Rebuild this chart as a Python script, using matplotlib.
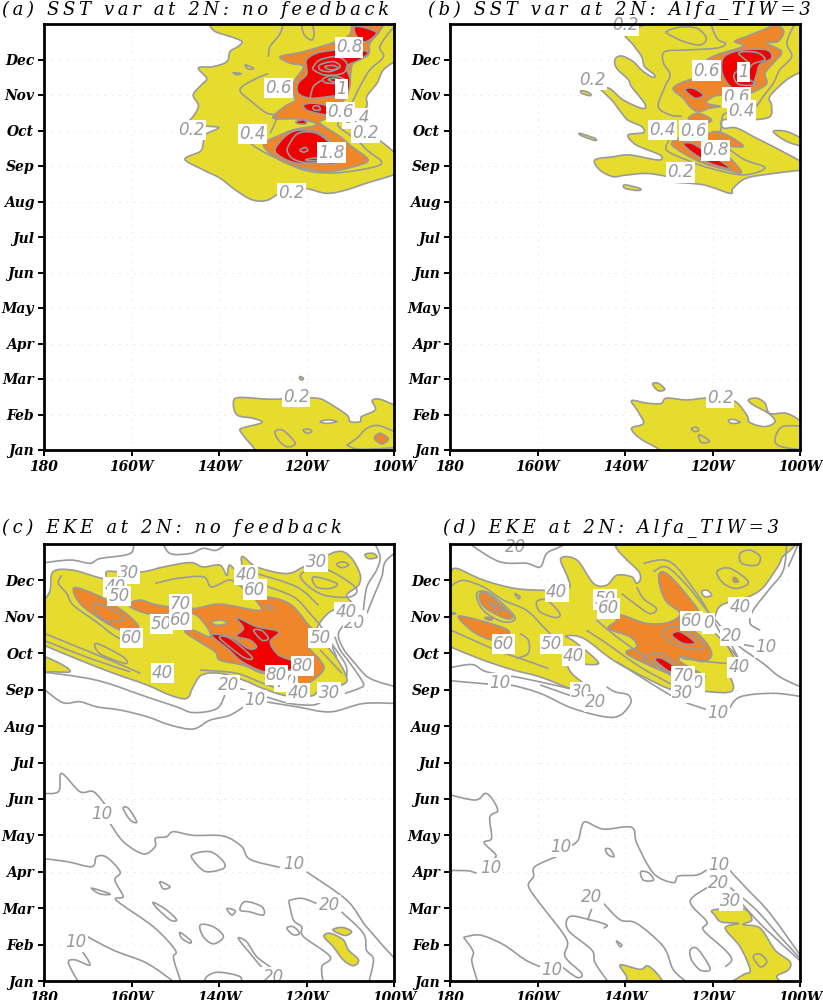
import matplotlib
matplotlib.use("Agg")
import matplotlib.pyplot as plt
from matplotlib.path import Path
from matplotlib.patches import PathPatch

months = ["Jan", "Feb", "Mar", "Apr", "May", "Jun", "Jul", "Aug", "Sep", "Oct", "Nov", "Dec"]
lon_ticks = [180, 160, 140, 120, 100]
lon_labels = ["180", "160W", "140W", "120W", "100W"]

# contours as (degrees west, months since Jan)

# panel a: SST var, no feedback
a_yellow = [
    [(142.2, 12.3), (142.2, 12), (140.9, 11.79), (137.5, 11.65), (134.8, 11.51), (135.6, 11.37), (137.5, 11.22),
     (138.2, 10.94), (141.3, 10.8), (144.7, 10.76), (142.8, 10.47), (144, 10.29), (145.9, 10), (144.7, 9.68),
     (146.6, 9.3), (148.9, 9.16), (141.3, 9.11), (140.2, 9.06), (143.2, 8.88), (143.6, 8.64), (144.3, 8.41),
     (147.8, 8.19), (143.6, 7.89), (139.8, 7.66), (136.3, 7.33), (132.5, 7.05), (129.1, 7.03), (126, 7.23),
     (120.7, 7.37), (115.4, 7.23), (110.8, 7.33), (106.2, 7.52), (99, 7.8), (98, 8.0), (99, 8.27), (102.4, 8.64),
     (105.5, 8.88), (107.8, 9.11), (108.5, 9.39), (106.2, 9.68), (106.2, 9.96), (103.9, 10.33), (102.4, 10.71),
     (99, 11.05), (98, 11.5), (98, 12.4), (100, 12.4)],
    [(136.7, 1.36), (135.2, 1.48), (128.3, 1.43), (122, 1.46), (117.6, 1.46), (115.4, 1.36), (110.8, 0.99), (110, 0.8),
     (107.7, 0.8), (107.4, 0.94), (104.3, 1.13), (105, 1.39), (103.2, 1.43), (100, 1.27), (98, 1.2), (98, -0.2),
     (131, -0.2), (131.7, 0), (134.8, 0.47), (134.8, 0.61), (130.2, 0.77), (132.1, 0.89), (135.9, 0.99)],
    [(121.4, 2.07), (120.7, 2.02), (121.1, 1.97), (121.6, 2.02)],
]
a_orange = [
    [(108.9, 12.3), (102.4, 12.3), (102.4, 12), (103.6, 11.74), (105.5, 11.46), (105.9, 11.13), (109.3, 10.9), (110, 10.52),
     (110.8, 9.96), (113.1, 9.68), (113.5, 9.44), (116.9, 9.25), (115.4, 9.07), (112.3, 8.83), (109.7, 8.55),
     (105.9, 8.17), (109.3, 7.98), (115.4, 7.84), (122.2, 7.98), (126.8, 8.22), (129.9, 8.6), (126.8, 8.83),
     (123, 9.02), (117.7, 9.16), (121.5, 9.32), (127.6, 9.35), (124.9, 9.68), (122.6, 9.86), (123.4, 10.15),
     (122.6, 10.43), (120.7, 10.8), (123.8, 10.9), (126, 11.08), (120.7, 11.22), (113.1, 11.51), (110, 11.74)],
    [(104.5, 0.33), (103.2, 0.47), (101.3, 0.31), (102.8, 0.17)],
]
a_red = [
    [(108.9, 11.93), (106.2, 11.88), (104, 11.74), (106.2, 11.51), (107.8, 11.55), (108.9, 11.74)],
    [(120, 10.99), (117.7, 11.18), (113.1, 11.27), (107.8, 11.27), (105.9, 11.18), (107.8, 10.99), (110.8, 10.8),
     (110, 10.43), (110.8, 10.05), (114.6, 9.96), (119.2, 9.91), (121.9, 10.05), (121.9, 10.33), (120, 10.57), (120, 10.8)],
    [(120.7, 9.72), (118.4, 9.77), (115, 9.68), (114.6, 9.44), (117.7, 9.49), (120, 9.58)],
    [(122.4, 9.25), (120.7, 9.3), (120, 9.19), (121.9, 9.19)],
    [(127.2, 8.45), (124.9, 8.83), (122.2, 9), (117.7, 8.97), (114.6, 8.69), (113.1, 8.45), (113.1, 8.08),
     (117.7, 8.08), (122.2, 8.08), (125.3, 8.22)],
]
a_white = [[(116.9, 0.8), (115, 0.85), (113.1, 0.8), (115.4, 0.75)]]
a_loops = [
    [(121.1, 12.2), (120.7, 11.74), (118.8, 11.55), (118.3, 11.79), (119.4, 12.2)],
    [(136.7, 10.63), (135, 10.6), (136, 10.57)],
    [(134, 10.85), (132.1, 10.75), (133.3, 10.73)],
    [(118.4, 10.8), (116.9, 10.99), (113.1, 11.08), (110.8, 10.9), (111.2, 10.66), (113.1, 10.57), (116.1, 10.57), (118.4, 10.71)],
    [(116.9, 10.85), (113.9, 10.94), (112.3, 10.8), (114.6, 10.66), (116.9, 10.71)],
    [(115.8, 10.8), (113.9, 10.83), (112.7, 10.75), (114.6, 10.71)],
    [(116.1, 10.47), (113.9, 10.54), (111.2, 10.43), (113.1, 10.33), (115.8, 10.35)],
    [(115, 10.44), (113.5, 10.47), (112.3, 10.4), (113.9, 10.37)],
    [(118.4, 9.68), (117.3, 9.69), (116.9, 9.58), (118.3, 9.58)],
    [(124.2, 8.55), (121.9, 8.92), (117.7, 8.92), (113.9, 8.55), (113.9, 8.27), (118.4, 8.08), (122.6, 8.17), (124.2, 8.36)],
    [(121.5, 8.45), (120.3, 8.52), (119.7, 8.44), (120.7, 8.39)],
    [(119.9, 8.19), (117.7, 8.22), (117.7, 8.15), (119.9, 8.15)],
    [(127.2, 0.52), (125.3, 0.55), (122.6, 0.19), (124.5, 0.09), (126.4, 0.28)],
    [(120.8, 0.56), (119.5, 0.59), (118.8, 0.52), (119.9, 0.47)],
]
a_lines = [
    [(98, 12.1), (100.3, 11.88), (103.2, 11.37), (102.4, 11.08), (105.5, 10.71), (107.4, 10.33), (109.3, 9.86), (110.8, 9.49),
     (112.7, 9.25), (112.3, 9.07), (108.5, 8.74), (106.2, 8.45), (102.8, 8.08), (107.8, 7.89), (114.6, 7.8),
     (120.7, 7.89), (126, 8.17), (130.6, 8.45), (133.3, 8.69)],
    [(128.3, 8.92), (126.8, 9.39), (129.1, 9.49), (132.1, 9.77), (135.2, 10.15), (131.4, 10.47), (128.7, 10.6)],
    [(128.7, 11.08), (128.3, 11.37), (126, 11.74), (124.9, 12.2)],
    [(119.2, 9.91), (118.4, 10.24), (116.5, 10.42)],
    [(110.8, 0.14), (108.5, 0.33), (106.2, 0.61), (103.2, 0.68), (98, 0.4)],
    [(110.8, 0.14), (107.7, 0.02), (98, 0.08)],
]
a_labels = [("0.8", 110.3, 11.34), ("0.6", 126.4, 10.19), ("1", 112, 10.17), ("0.4", 108.6, 9.34), ("0.6", 112.3, 9.52),
            ("0.2", 146.2, 9.02), ("0.4", 132.3, 8.9), ("0.2", 106.5, 8.94), ("1.8", 114.2, 8.38), ("0.2", 123.4, 7.23),
            ("0.2", 122.4, 1.5)]

# panel b: SST var, Alfa_TIW=3
b_yellow = [
    [(135, 12.3), (135, 12.02), (140, 11.75), (138.1, 11.41), (136.2, 11.08), (135.5, 10.8), (133.2, 10.56), (133.9, 10.51),
     (136.2, 10.7), (138.1, 10.94), (140.8, 11.1), (142.3, 11), (141.9, 10.75), (139.3, 10.44), (138.5, 10.23), (135.5, 9.76),
     (136, 9.62), (140.4, 9.86), (143.5, 10.18), (146.1, 10.23), (145, 10.09), (142.7, 9.81), (141.2, 9.56), (139.3, 9.29),
     (136.2, 9.11), (135.8, 8.94), (139.3, 8.87), (137.4, 8.59), (132, 8.31), (132.4, 8.17), (138.9, 8.31), (142.7, 8.26),
     (146.9, 8.17), (145.7, 7.88), (142.7, 7.7), (140, 7.74), (135.1, 7.79), (130.5, 7.7),
     (129.7, 7.56), (122.1, 7.47), (116, 7.23), (115.3, 7.37), (112.2, 7.66), (105.4, 7.8), (99, 7.9), (98, 8.0), (99, 8.08),
     (105.4, 8.5), (109.9, 8.78), (114.5, 9.07), (117.5, 9.07), (117.5, 9.3), (111, 9.3), (106.9, 9.39), (106.5, 9.72),
     (106.9, 9.96), (103, 10.43), (99, 10.72), (98, 11), (98, 12.4), (100, 12.4)],
    [(149.9, 10.13), (148, 10.05), (148, 9.98), (149.9, 10.05)],
    [(150.3, 8.92), (146.9, 8.78), (146.9, 8.72), (149.9, 8.85)],
    [(140, 7.47), (136.6, 7.37), (137, 7.31), (140, 7.37)],
    [(106.1, 8.97), (103, 8.97), (99, 8.74), (98, 8.65), (99, 8.55), (103, 8.69)],
    [(138.5, 1.39), (135, 1.32), (131.8, 1.31), (130.5, 1.46), (125.9, 1.41), (121.3, 1.46), (115.2, 1.39), (112.2, 0.99),
     (111.4, 0.77), (108, 0.66), (105.7, 0.8), (107.2, 1.03), (110.7, 1.27), (111.8, 1.41), (109.9, 1.46), (108, 1.32),
     (106.9, 1.03), (103, 1.03), (99, 0.75), (98, 0.6), (98, -0.2), (131, -0.2), (132, 0), (136.6, 0.33), (138.5, 0.61),
     (135.8, 0.75), (137, 1.08)],
    [(133.7, 1.86), (132.4, 1.88), (130.9, 1.71), (132.4, 1.67)],
]
b_orange = [
    [(107.6, 11.88), (105.4, 11.98), (103.7, 11.79), (105, 11.51), (107.6, 11.46), (104.2, 11.22), (106.1, 10.9), (108, 10.61),
     (107.6, 10.33), (109.9, 10.13), (113, 10), (117.2, 10), (119.8, 9.96), (121.4, 9.77), (118.3, 9.68), (120.6, 9.63),
     (123.3, 9.53), (125.2, 9.68), (126.7, 9.91), (129, 10.19), (125.2, 10.43), (120.6, 10.47), (118.3, 10.61), (121.7, 10.9),
     (119.1, 11.13), (113, 11.37), (114.9, 11.51), (112.2, 11.65)],
    [(125.5, 9.35), (123.3, 9.49), (120.2, 9.3), (122.1, 9.19), (124, 9.25)],
    [(129.4, 8.64), (126.3, 8.83), (122.1, 8.88), (119.1, 8.97), (116, 8.83), (113, 8.55), (117.5, 8.5), (113.4, 7.84),
     (116.7, 7.89), (122.1, 8.08), (126.7, 8.36)],
]
b_red = [
    [(117.9, 10.9), (116.8, 11.13), (113, 11.27), (107.6, 11.27), (106.5, 11.04), (109.2, 10.85), (110, 10.55), (111.4, 10.19),
     (115.3, 10.19), (117.5, 10.52)],
    [(126.3, 10.15), (124.4, 10.19), (122.1, 10), (124, 9.91)],
    [(126.7, 8.62), (124.8, 8.64), (122.1, 8.45), (116, 7.94), (120.6, 8.08), (124.4, 8.36)],
]
b_white = [[(116.4, 0.83), (115.2, 0.86), (113.7, 0.78), (115.6, 0.75)]]
b_loops = [
    [(130.5, 11.79), (127.5, 11.91), (123.6, 11.88), (121.4, 11.6), (122.9, 11.41), (126.7, 11.51), (129.7, 11.69)],
    [(114, 11.18), (110, 11.2), (108, 11.0), (111, 10.85), (112, 10.5), (110, 10.3), (114, 10.3), (115, 10.6), (111.6, 10.85)],
    [(104.9, 0.56), (103, 0.68), (98, 0.6), (98, 0.05), (103.8, 0.08), (105.7, 0.24)],
    [(124.8, 0.61), (123.6, 0.64), (123.2, 0.55), (124.2, 0.52)],
    [(123.2, 0.42), (122.1, 0.38), (120.7, 0.24), (122.5, 0.21)],
]
b_lines = [
    [(121, 12.2), (119, 11.6), (117, 11.45), (119, 11.32), (125.5, 11.27), (130.9, 11.22), (131.2, 10.9), (129.7, 10.57), (131, 10.2),
     (132.4, 9.67), (129.7, 9.44), (127, 9.4)],
    [(129.7, 8.78), (130.5, 8.45), (125.9, 8.17), (120.6, 7.94), (113, 7.75), (108, 7.95), (113, 8.2), (118, 8.7), (118, 9.1), (117.5, 9.45), (115, 9.5)],
    [(100, 12.1), (101.5, 11.93), (103, 11.46), (101.9, 11.08), (104.6, 10.71), (106.1, 10.33), (108.4, 9.96), (109.9, 9.68)],
]
b_labels = [("0.2", 140, 11.96), ("0.2", 147.5, 10.43), ("0.6", 121.4, 10.69), ("1", 113, 10.64), ("0.6", 114.5, 9.93),
            ("0.4", 113.3, 9.56), ("0.4", 131.4, 9.02), ("0.6", 124.4, 9), ("0.8", 119.3, 8.44), ("0.2", 127.4, 7.82),
            ("0.2", 118.3, 1.46)]

# panel c: EKE, no feedback
c_yellow = [
    [(182, 9.35), (180, 9.22), (171.8, 8.81), (164.1, 8.45), (156.5, 8.13), (151.2, 7.85), (147.4, 7.76), (145.9, 8.08), (144, 8.4),
     (139.8, 8.45), (134.4, 8.26), (129.9, 8.03), (124.5, 7.83), (118.8, 7.83), (116.9, 7.99), (111.2, 8.17), (111.2, 8.45),
     (113.1, 8.86), (115.4, 9.22), (117.7, 9.63), (114.6, 10.14), (109.7, 10.32), (110.8, 10.6), (108.1, 10.87), (107.8, 11.19),
     (110, 11.65), (113.1, 11.79), (119.9, 11.42), (124.5, 11.19), (131.4, 11.37), (134.8, 11.65), (134.4, 11.05), (137.5, 11.42),
     (138.2, 11.14), (139.8, 11.42), (143.6, 11.37), (146.6, 11.49), (152.7, 11.37), (157.3, 11.24), (163, 11.24), (165.7, 11.24),
     (166.4, 11.05), (173.3, 11.28), (177.9, 11.24), (178.6, 10.73), (180, 10.46), (182, 10.3)],
    [(182, 9.0), (180, 8.92), (175.6, 8.67), (174.1, 8.49), (178.6, 8.49), (180, 8.45), (182, 8.4)],
    [(106.6, 11.72), (104.7, 11.74), (103.9, 11.63), (105.9, 11.6)],
    [(116, 1.22), (114.6, 1.31), (111.6, 1.13), (110.4, 0.85), (108.1, 0.58), (109.3, 0.42), (111.6, 0.58), (113.9, 0.94)],
    [(114, 1.4), (111.8, 1.47), (109.7, 1.36), (111.2, 1.25)],
]
c_orange = [
    [(173.3, 10.78), (170.6, 10.73), (165.7, 10.46), (160.3, 10), (158.4, 9.68), (162.2, 9.63), (166.8, 9.91), (171.8, 10.37)],
    [(160.7, 10.32), (158, 10.46), (153.9, 10.32), (145.9, 10.23), (139.8, 10.35), (130.6, 10.18), (131.8, 10.55), (126.8, 10.5),
     (123, 10.28), (119.2, 9.73), (117.7, 9.62), (119.6, 9.22), (116.9, 8.81), (116.1, 8.54), (119.6, 8.17), (122.2, 8.13),
     (124.1, 8.49), (129.9, 8.45), (134.4, 8.67), (139.8, 8.81), (140.9, 9.04), (145.1, 9.36), (147.8, 9.59), (145.9, 9.63),
     (142.1, 9.45), (142.8, 9.73), (145.9, 10.09), (151.2, 10.09), (156.5, 10.09)],
]
c_red = [
    [(136, 9.98), (131.4, 9.73), (126.4, 9.59), (128.3, 9.31), (126.4, 8.95), (123, 8.77), (123.8, 8.54), (129.5, 8.49),
     (134.7, 8.77), (137.7, 9.09), (141.7, 9.5), (137.5, 9.45), (133.3, 9.13), (131.4, 9.17), (132.9, 9.36), (136, 9.47), (134.4, 9.68)],
]
c_hole = [[(141.7, 9.86), (139.4, 9.91), (138.2, 9.82), (140.5, 9.77)]]
c_loops = [
    [(168, 9.27), (161.9, 8.9), (161.5, 8.72), (167.2, 8.99)],
    [(111.6, 11.51), (110.4, 11.42), (112, 11.35), (113.1, 11.45)],
    [(118.4, 11.1), (113.1, 10.92), (114.6, 10.78), (117.7, 10.82)],
    [(121.1, 11.19), (116.1, 11.33), (108.9, 10.82), (110, 10.55), (116.1, 10.6), (120.3, 10.92)],
    [(168.7, 10.32), (166.4, 10.32), (161.5, 9.95), (166.4, 9.91)],
    [(132.1, 9.63), (130.2, 9.62), (128.7, 9.41), (130.2, 9.36)],
    [(139.8, 9.41), (137.5, 9.41), (132.5, 8.9), (134.4, 8.89)],
    [(129.1, 10.32), (127.6, 10.27), (128.6, 10.2)],
    [(161.9, 4.74), (160.7, 4.74), (158.8, 4.37), (160.3, 4.42)],
    [(146.2, 3.46), (142, 3.55), (139, 3.28), (139, 3.09), (142.8, 3), (145, 3.19)],
    [(153.5, 2.73), (151.2, 2.59), (152.7, 2.53)],
    [(169.1, 2.55), (164.9, 2.39), (167.2, 2.39)],
    [(155, 2.16), (152, 1.95), (149.7, 1.68), (151.2, 1.68), (154.2, 2)],
    [(138.2, 1.99), (136.3, 1.93), (137.1, 1.81)],
    [(135.2, 1.95), (134, 2.18), (130.2, 2.04), (129.9, 1.81), (133, 1.9)],
    [(148.9, 1.33), (146.6, 1.13), (146.6, 1.04), (148.5, 1.17)],
    [(144.3, 1.54), (141.3, 1.49), (139, 1.22), (141.3, 1.02), (143.6, 1.22)],
    [(135.6, 1.17), (133.7, 1.08), (131.4, 0.67), (128, 0.35), (129.9, 0.35), (132.9, 0.76)],
    [(124.5, 1.45), (123, 1.49), (121.6, 1.31), (123, 1.27)],
]
c_lines = [
    [(181, 8.1), (179.8, 7.99), (175.6, 7.64), (171.8, 7.67), (168, 7.53), (162.6, 7.44), (156.5, 7.26), (151.2, 7.03), (145.9, 6.92),
     (142.1, 7.16), (137.5, 7.3), (133.5, 7.6)],
    [(129.5, 7.67), (122.2, 7.53), (114.6, 7.39), (107, 7.62), (99, 7.62)],
    [(181, 8.5), (168, 8.26), (156.5, 7.8), (149.7, 7.53), (145.9, 7.37), (140.5, 7.48), (138.5, 7.9)],
    [(135.2, 8.03), (129.1, 7.8), (123.8, 7.62), (118.4, 7.58), (116.1, 7.71)],
    [(111.2, 7.9), (108.1, 8.03), (107, 8.17), (110, 8.72), (112.3, 9.09), (113.5, 9.45)],
    [(99, 8.06), (105.5, 8.31), (108.9, 8.72), (111.6, 9.13), (112.7, 9.54), (110.5, 9.9)],
    [(107, 10.18), (106.2, 10.82), (104, 11.28), (103.2, 11.65), (104.7, 12.1)],
    [(153.1, 12.1), (151.2, 11.74), (146.6, 11.74), (143.6, 11.88), (140.5, 11.83), (137.5, 12.1)],
    [(181, 11.47), (174, 11.56), (169.5, 11.47), (167.2, 11.6), (160.3, 11.74), (159.6, 12.1)],
    [(99, 11.83), (102, 11.51), (102.8, 11.1), (104.7, 10.55), (106.2, 10.09)],
    [(176, 11.14), (176.7, 10.92), (174.8, 10.64), (173.3, 10.32), (168, 9.86), (163.4, 9.45), (158, 9.2)],
    [(181, 9.6), (173.3, 9.22), (164.1, 8.77), (158, 8.45)],
    [(181, 9.4), (169.5, 8.86), (160.3, 8.49)],
    [(154.6, 10.92), (149.7, 11.05), (143.6, 11.1), (141.7, 10.82), (137.5, 11.01), (134.4, 10.78)],
    [(129.9, 10.87), (123, 10.55), (119.2, 10.09), (116.1, 9.63), (113.1, 8.9)],
    [(131.4, 11.19), (122.2, 10.82), (117.3, 10.32)],
    [(115.4, 9.45), (111.2, 8.72), (110.8, 8.35)],
    [(116.9, 9.09), (111.9, 8.45)],
    [(144.3, 8.54), (136, 8.45), (129.9, 8.17), (124.5, 7.97), (120, 7.99)],
    [(181, 5.15), (176.7, 5.2), (176, 5.7), (171.8, 5.2), (168.7, 5.2), (165.8, 4.81)],
    [(164.9, 4.33), (161.9, 3.83), (157.3, 3.49), (154.6, 3.69), (154.5, 3.92), (152, 3.96), (150.4, 4.1), (145.9, 4), (139, 3.98),
     (134.8, 3.69), (132.9, 3.34), (126.1, 3.12)],
    [(120, 3), (110.8, 2.22), (106.3, 1.49), (99, 0.5)],
    [(181, 3.37), (174.8, 3.28), (169.1, 3.14), (168, 3.41), (165.7, 3.4), (162.6, 3), (163.8, 2.77), (161.9, 2.32), (163.4, 2.21),
     (155, 1.49), (150, 0.85), (150.4, 0.62), (148.5, -0.1)],
    [(171.8, 1.33), (164.2, 0.85), (156.5, 0.49), (150, -0.05)],
    [(171.8, -0.1), (174.4, 0.49), (172.9, 0.58), (169.5, 0.44), (171.4, 0.85)],
    [(143.4, -0.1), (142.8, 0.12), (140.1, 0.24), (135.2, 0.12), (135.2, -0.1)],
    [(124.1, 2.21), (121.1, 2.27), (117.7, 2.13)],
    [(112, 1.9), (107, 1.31), (106.3, 0.85), (104.7, 0.58), (105.9, -0.1)],
    [(124.1, 2.21), (123, 1.68), (121.1, 1.49), (120.7, 1.22), (114.6, 0.67), (116.5, 0.39), (116.1, -0.1)],
]
c_labels = [("30", 160.7, 11.19), ("40", 163.8, 10.82), ("50", 162.8, 10.57), ("70", 148.8, 10.35), ("50", 153.1, 9.8),
            ("60", 148.8, 9.91), ("60", 160, 9.42), ("40", 152.9, 8.45), ("40", 133.8, 11.14), ("60", 131.8, 10.75),
            ("30", 117.8, 11.51), ("20", 108.9, 9.84), ("40", 111, 10.14), ("50", 116.9, 9.41), ("70", 124.7, 8.22),
            ("80", 126.9, 8.4), ("80", 120.9, 8.65), ("40", 121.9, 7.91), ("30", 114.8, 7.92), ("20", 137.9, 8.13),
            ("10", 131.8, 7.71), ("10", 166.8, 4.59), ("10", 172.7, 1.08), ("10", 122.8, 3.2), ("20", 114.8, 2.09),
            ("20", 127.6, 0.1)]

# panel d: EKE, Alfa_TIW=3
d_yellow = [
    [(182, 9.3), (180, 9.18), (172.4, 8.81), (165.5, 8.54), (159.4, 8.35), (151.8, 8.01), (148.8, 8.08), (152.2, 8.45), (152.6, 8.7),
     (146.9, 8.69), (146.5, 8.81), (151.4, 9.31), (153.5, 9.47), (149.5, 9.41), (142.7, 8.81), (135, 8.31), (129, 7.99),
     (123.6, 7.97), (116.8, 7.92), (115.2, 8.08), (116.4, 8.58), (114.1, 8.83), (119, 9.5), (120.2, 9.59), (118.7, 10.23),
     (116, 10.41), (113.7, 10.46), (109.1, 10.73), (106.1, 11.19), (104.2, 11.6), (103.4, 12.2), (140.5, 12.2), (136.6, 11.19),
     (137.3, 10.92), (138.5, 11.1), (141.9, 11.14), (144.2, 10.87), (147.2, 10.92), (151, 11.56), (154.7, 11.6), (153, 11.05),
     (153, 10.78), (157.9, 10.73), (165.1, 10.78), (172.4, 11.01), (178.5, 11.33), (180, 11.19), (182, 11)],
    [(119.8, 1.95), (113, 1.99), (111, 1.68), (113, 1.55), (109.1, 1.45), (105.7, 0.85), (102.3, 0.53), (102.7, 0.3), (105.3, 0.12),
     (104.2, -0.2), (116.8, -0.2), (113, 0.17), (111.4, 0.3), (113.7, 0.94), (117.1, 1.45), (114.1, 1.58), (118, 1.62), (119.4, 1.8)],
    [(141.1, 0.44), (136.6, 0.32), (134.7, 0.41), (132, 0.1), (131.5, -0.2), (140, -0.2), (139.6, 0.1)],
]
d_orange = [
    [(132.2, 11.19), (130.5, 11.19), (127.4, 10.82), (122.9, 10.09), (126.3, 10.05), (127.4, 9.77), (124.4, 9.63), (121.3, 9.27),
     (120.2, 8.95), (122.1, 8.77), (126.7, 8.9), (127.4, 8.77), (121.7, 8.35), (127.4, 8.35), (132, 8.54), (139.6, 8.99),
     (137.3, 9.18), (138.8, 9.45), (143.8, 9.68), (141.9, 9.91), (144.2, 10.09), (140.8, 10.05), (135, 9.82), (130, 9.85),
     (127.4, 10.09), (130.5, 10.41), (132, 10.82)],
    [(181, 10.14), (178.6, 10.09), (181, 10.05)],
    [(178.1, 10), (174.7, 9.95), (167.4, 9.68), (166.7, 9.5), (170.1, 9.36), (174.7, 9.59)],
    [(173.3, 10.6), (171.6, 10.64), (165.9, 10.05), (167.1, 9.95), (171.2, 10.18), (172.8, 10.37)],
    [(172, 9.98), (170.5, 9.98), (170.5, 9.91), (171.6, 9.93)],
    [(115.2, 11.08), (114.5, 11.05), (114.1, 10.96), (115.1, 10.96)],
]
d_red = [
    [(129.3, 9.5), (127.4, 9.59), (124, 9.29), (126.7, 9.27)],
    [(133.1, 8.81), (131.6, 8.86), (128.2, 8.58), (129.7, 8.49)],
]
d_white = [[(122.5, 10.69), (121.3, 10.73), (120.2, 10.6), (121.7, 10.55)]]
d_loops = [
    [(160.2, 10.41), (157.9, 10.46), (154.9, 10.09), (156, 9.98), (159.4, 10.14)],
    [(165.2, 10.64), (164, 10.55), (164.4, 10.5)],
    [(173.9, 10.64), (170.9, 10.64), (165.2, 10), (167.8, 9.86), (172.4, 10.18)],
    [(171.2, 10.41), (169.7, 10.32), (167.8, 10.18), (169.3, 10.17)],
    [(131.6, 9.59), (128.2, 9.73), (122.9, 9.36), (122.1, 9.13), (125.9, 9.13), (129.7, 9.31)],
    [(135.8, 8.86), (132, 8.99), (126.7, 8.54), (129, 8.45), (133.5, 8.63)],
    [(119, 11.24), (116, 11.33), (111.8, 10.96), (114.5, 10.78), (117.5, 10.92)],
    [(113.7, 11.74), (111.4, 11.83), (109.1, 11.65), (109.9, 11.42), (113.3, 11.47)],
    [(144.5, 3.62), (143.4, 3.62), (142.5, 3.42), (143.8, 3.46)],
    [(136.4, 3), (134.6, 2.97), (133.5, 2.77), (135.8, 2.77)],
    [(142, 1.1), (140.8, 1), (141.1, 0.94)],
    [(125.1, 0.85), (123.6, 0.9), (121.3, 0.53), (120.6, 0.3), (122.8, 0.3), (124.8, 0.58)],
    [(110.7, 0.67), (109.1, 0.74), (107.6, 0.53), (109.1, 0.39)],
]
d_lines = [
    [(175.5, 12.1), (174.7, 11.94), (168.6, 11.51), (162.5, 11.47), (159.4, 11.37), (157.9, 11.74), (154.9, 11.92), (151.8, 12.1)],
    [(103, 12.1), (103.8, 11.28), (107.2, 10.73), (110.7, 10.18), (111.4, 9.82), (109.1, 9.63)],
    [(100, 12.1), (102.7, 11.37)],
    [(181, 10.73), (177.3, 11), (172.4, 10.82), (167.8, 10.46), (162.5, 10.18), (158.7, 9.73), (156.4, 9.45)],
    [(181, 9.7), (174.7, 9.36), (168.6, 9.04), (164, 8.86), (157.5, 8.58)],
    [(164, 9.54), (162.1, 9.36), (162.1, 9), (164.8, 8.86)],
    [(148.8, 9.63), (144.2, 9.27), (136.6, 8.63), (129, 8.12)],
    [(146.5, 9.91), (141.9, 9.45), (135, 8.86), (129, 8.35)],
    [(140.8, 10.64), (137.3, 10.32), (134.3, 10.09), (132.8, 10.23), (135.8, 10.5), (137.3, 10.82)],
    [(133.5, 11.24), (130.5, 11.37), (125.9, 10.87), (121.3, 10.18), (117.5, 9.63), (114.1, 8.86)],
    [(135.8, 11.47), (129.7, 11.51), (123.6, 10.64), (119, 9.73), (115.2, 8.9)],
    [(127, 8.86), (121.3, 8.77), (116.8, 8.72)],
    [(181, 8.26), (170.9, 8.15), (166.3, 8.13), (159.4, 7.9), (151.8, 7.48), (142.7, 7.24), (138.9, 7.58), (139.2, 7.85), (142.3, 7.94), (144.2, 8.08)],
    [(181, 8.58), (175, 8.69), (171.6, 8.49), (163.2, 8.31), (152.6, 8.03)],
    [(159.4, 8.13), (149.5, 7.71)],
    [(121, 7.44), (127.4, 7.71), (133.5, 8.13), (141.9, 8.77)],
    [(116.4, 7.44), (113.7, 7.8), (106.1, 7.9), (99, 7.8)],
    [(99, 8.03), (104.6, 8.35), (108.4, 8.72), (114.1, 9.22), (110.3, 9.18)],
    [(181, 5.14), (174.3, 4.97), (172, 5.15), (170.5, 5.02), (169.1, 4.68), (170.9, 4.5), (170.5, 3.92), (172.2, 3.8), (169.5, 3.46), (170.5, 3.32)],
    [(181, 3.03), (176.2, 3.03), (173.9, 2.96)],
    [(152.6, 3.69), (150.7, 3.87), (149.9, 4.24), (148.9, 4.37), (144.9, 4.17), (138.5, 4.22), (137.3, 3.78), (133.5, 2.96), (129, 2.7),
     (127.8, 2.88), (123.6, 2.91), (121.3, 3.05)],
    [(116, 3.03), (112.2, 2.54), (106.9, 1.86), (99, 0.55)],
    [(155.6, 3.42), (160.6, 3.14), (160.9, 2.87), (162.1, 2.64), (160.9, 2.36), (158.3, 1.95), (153.3, 1.13), (153.7, 0.67), (149.9, 0.21), (151, 0.1), (154.5, 0.4)],
    [(176.9, 1.2), (173.1, 1.26), (167.8, 1), (162.8, 0.58), (159.1, 0.38)],
    [(176.9, 1.2), (174.7, 0.81), (175, 0.53), (173.5, -0.1)],
    [(144.9, 2.13), (141.1, 1.68), (137.3, 1.58), (131.2, 0.94), (128.9, 0.3), (125.1, -0.1)],
    [(147.6, 1.98), (148.4, 1.72), (148, 1.68)],
    [(144.9, 1.45), (144.2, 1.54), (148, 1.68), (152.6, 1.77), (153, 1.4), (147.6, 0.85), (146.8, 0.49), (143.4, -0.1)],
    [(116, 2.57), (110, 1.95), (104.6, 1.22), (99, 0.5)],
    [(113.7, 2.18), (108.4, 1.49), (99, 0.45)],
    [(120.9, 2.59), (125.1, 2.18), (121.3, 1.63), (122.1, 1.4), (117.1, 0.85), (115.6, 0.58), (117.1, 0.39)],
]
d_labels = [("20", 165.1, 11.93), ("40", 155.6, 10.69), ("50", 144.6, 10.48), ("60", 143.8, 10.23), ("60", 167.8, 9.25),
            ("50", 156.8, 9.25), ("40", 151.8, 8.92), ("30", 149.9, 7.94), ("20", 146.7, 7.67), ("10", 168.7, 8.17),
            ("0", 121, 9.82), ("60", 124.8, 9.89), ("40", 113.7, 10.26), ("20", 115.6, 9.47), ("10", 107.8, 9.16),
            ("40", 113.9, 8.61), ("60", 124.4, 8.19), ("70", 126.8, 8.38), ("30", 126.8, 7.92), ("10", 118.8, 7.37),
            ("10", 154.7, 3.69), ("10", 170.6, 3.09), ("20", 147.6, 2.32), ("10", 156.8, 0.3), ("10", 118.6, 3.19),
            ("20", 118.6, 2.68), ("30", 115.8, 2.2)]

titles = ["(a) SST var at 2N: no feedback", "(b) SST var at 2N: Alfa_TIW=3",
          "(c) EKE at 2N: no feedback", "(d) EKE at 2N: Alfa_TIW=3"]

YELLOW = "#e6dc2e"
ORANGE = "#f0862a"
RED = "#f20000"
GREY = "#9a9a9a"


def smooth(points, closed=True):
    # catmull-rom through the read points, as bezier segments
    n = len(points)
    verts = [points[0]]
    codes = [Path.MOVETO]
    for i in range(n if closed else n - 1):
        if closed:
            p0, p1, p2, p3 = points[i - 1], points[i], points[(i + 1) % n], points[(i + 2) % n]
        else:
            p0, p1, p2, p3 = points[max(i - 1, 0)], points[i], points[i + 1], points[min(i + 2, n - 1)]
        c1 = (p1[0] + (p2[0] - p0[0]) / 6, p1[1] + (p2[1] - p0[1]) / 6)
        c2 = (p2[0] - (p3[0] - p1[0]) / 6, p2[1] - (p3[1] - p1[1]) / 6)
        verts += [c1, c2, p2]
        codes += [Path.CURVE4] * 3
    return Path(verts, codes)


def fill(ax, polys, color, z):
    for poly in polys:
        ax.add_patch(PathPatch(smooth(poly), fc=color, ec=GREY, lw=1.2, zorder=z))


def panel(ax, yellow, orange, red, extra, loops, lines, labels):
    ax.set_xlim(180, 100)
    ax.set_ylim(0, 12)
    ax.set_xticks(lon_ticks)
    ax.set_xticklabels(lon_labels, family="DejaVu Serif", style="italic", weight="bold", fontsize=10)
    ax.set_yticks(range(12))
    ax.set_yticklabels(months, family="DejaVu Serif", style="italic", weight="bold", fontsize=10)
    ax.tick_params(length=4, width=1.4, pad=3)
    ax.grid(color="#cfcfcf", linestyle=(0, (1, 8)), linewidth=0.6)
    ax.set_axisbelow(True)
    for s in ax.spines.values():
        s.set_linewidth(2)
        s.set_zorder(10)
    fill(ax, yellow, YELLOW, 2)
    fill(ax, orange, ORANGE, 3)
    fill(ax, red, RED, 4)
    for color, polys in extra:
        fill(ax, polys, color, 5)
    for loop in loops:
        ax.add_patch(PathPatch(smooth(loop), fc="none", ec=GREY, lw=1.2, zorder=6))
    for line in lines:
        ax.add_patch(PathPatch(smooth(line, closed=False), fc="none", ec=GREY, lw=1.2, zorder=6))
    for txt, lon, mon in labels:
        ax.text(lon, mon, txt, color=GREY, fontsize=12, style="italic", ha="center", va="center", zorder=7,
                bbox=dict(fc="white", ec="none", pad=0.8))


W, H = 823, 1000
fig = plt.figure(figsize=(W / 100, H / 100), dpi=100)
ax_a = fig.add_axes([44 / W, 1 - 450 / H, 350 / W, 426 / H])
ax_b = fig.add_axes([450 / W, 1 - 450 / H, 350 / W, 426 / H])
ax_c = fig.add_axes([44 / W, 1 - 981 / H, 350 / W, 437 / H])
ax_d = fig.add_axes([450 / W, 1 - 981 / H, 350 / W, 437 / H])

panel(ax_a, a_yellow, a_orange, a_red, [("white", a_white)], a_loops, a_lines, a_labels)
panel(ax_b, b_yellow, b_orange, b_red, [("white", b_white)], b_loops, b_lines, b_labels)
panel(ax_c, c_yellow, c_orange, c_red, [(YELLOW, c_hole)], c_loops, c_lines, c_labels)
panel(ax_d, d_yellow, d_orange, d_red, [("white", d_white)], d_loops, d_lines, d_labels)

# the original titles are widely tracked, thin spaces get close to it
title_kw = dict(family="DejaVu Serif", style="italic", fontsize=13, va="center", ha="left")
for txt, x, y in zip(titles, [2, 428, 2, 443], [10, 10, 528, 528]):
    fig.text(x / W, 1 - y / H, "\u2009".join(txt), **title_kw)

fig.savefig("out.png", dpi=100)
